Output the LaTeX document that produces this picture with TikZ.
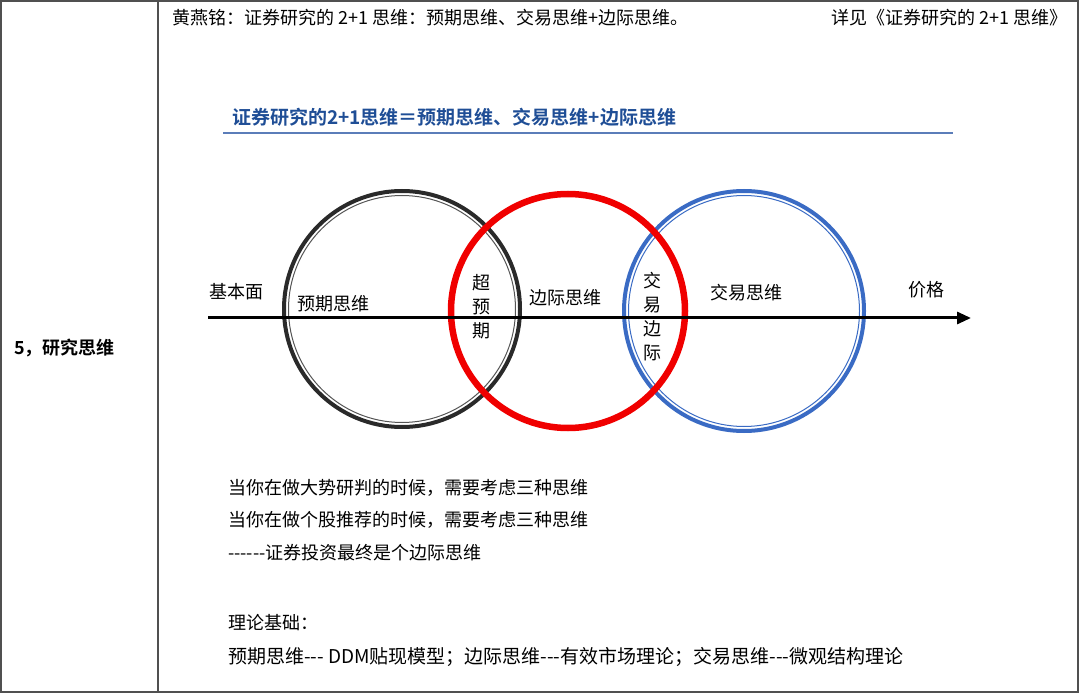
\documentclass[tikz,border=0pt]{standalone}
\usepackage{fontspec}
\setmainfont{Noto Sans CJK SC}
\newfontfamily\cjkbold{Noto Sans CJK SC Bold}
\usetikzlibrary{arrows.meta}
\definecolor{gridgray}{HTML}{505050}
\definecolor{circblue}{HTML}{3A6BC4}
\definecolor{titleblue}{HTML}{1F4E96}
\definecolor{ruleblue}{HTML}{5B7DB9}
\definecolor{circred}{HTML}{F00000}
\definecolor{circblack}{HTML}{2A2A2A}
\begin{document}
\begin{tikzpicture}[x=1pt,y=-1pt,
  grid/.style={draw=gridgray,line width=1.5pt},
  txt/.style={inner sep=0pt,font=\fontsize{18}{22}\selectfont},
  head/.style={inner sep=0pt,font=\fontsize{18}{20}\selectfont},
  lbl/.style={inner sep=0pt,font=\fontsize{18}{22}\selectfont},
  vlbl/.style={inner sep=0pt,align=center,font=\fontsize{18}{24}\selectfont}]
\useasboundingbox (0,0) rectangle (1080,695);
% table
\draw[grid] (1,1) rectangle (1078,692);
\draw[grid] (158,1) -- (158,692);
\node[anchor=west,inner sep=0pt,font=\cjkbold\fontsize{18}{20}\selectfont] (cell) at (14,348) {5，研究思维};
% header
\node[head,anchor=west] (h1) at (172,18) {黄燕铭：证券研究的 2+1 思维：预期思维、交易思维+边际思维。};
\node[head,anchor=east] (h2) at (1068,18) {详见《证券研究的 2+1 思维》};
% title
\node[anchor=west,inner sep=0pt,text=titleblue,font=\cjkbold\fontsize{19}{22}\selectfont] (title) at (232,117) {证券研究的2+1思维＝预期思维、交易思维+边际思维};
\coordinate (rl) at (223,133);
\coordinate (rr) at (953,133);
\draw[ruleblue,line width=2pt] (rl) -- (rr);
% circles
\draw[circblack,line width=4pt] (402,309) circle (118);
\draw[circblack!80,line width=1pt] (402,309) circle (113.5);
\draw[circblue,line width=4pt] (744,311) circle (120);
\draw[circblue,line width=1pt] (744,311) circle (115.5);
\draw[circred,line width=6.5pt] (568,311) circle (117);
% axis
\coordinate (as) at (208,318);
\coordinate (ae) at (971,318);
\draw[line width=3pt,-{Triangle[length=14pt,width=12pt]}] (as) -- (ae);
% labels
\node[lbl] (jbm) at (236,292) {基本面};
\node[lbl] (yq) at (333,304) {预期思维};
\node[vlbl] (cyq) at (481,307) {超\\预\\期};
\node[lbl] (bj) at (565,298) {边际思维};
\node[vlbl] (jybj) at (652,317) {交\\易\\边\\际};
\node[lbl] (jy) at (746,293) {交易思维};
\node[lbl] (jg) at (926,290) {价格};
% body text
\node[txt,anchor=west] (t1) at (228,488) {当你在做大势研判的时候，需要考虑三种思维};
\node[txt,anchor=west] (t2) at (228,520) {当你在做个股推荐的时候，需要考虑三种思维};
\node[txt,anchor=west] (t3) at (228,553) {-{}-{}-{}-{}-{}-证券投资最终是个边际思维};
\node[txt,anchor=west] (t4) at (228,623) {理论基础：};
\node[txt,anchor=west,font=\fontsize{19}{22}\selectfont] (t5) at (228,657) {预期思维-{}-{}- DDM贴现模型；边际思维-{}-{}-有效市场理论；交易思维-{}-{}-微观结构理论};
\end{tikzpicture}
\end{document}
